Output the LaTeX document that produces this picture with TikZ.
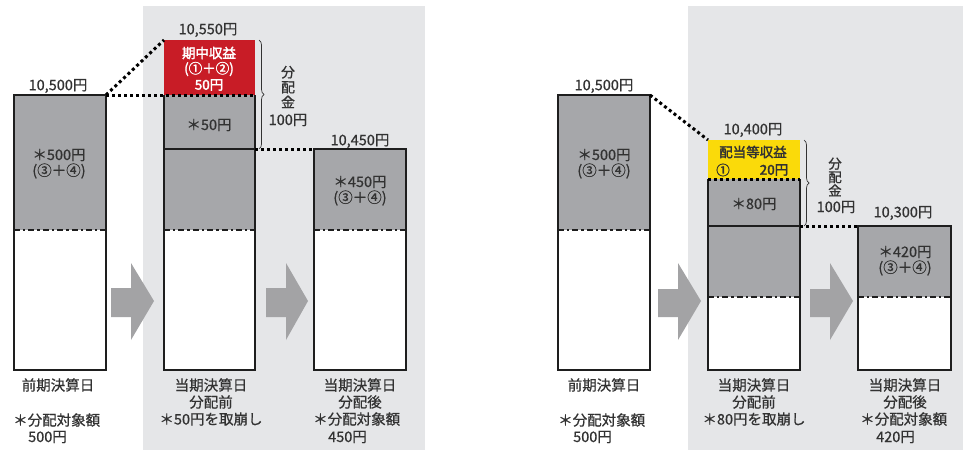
\documentclass[tikz,border=0pt]{standalone}
\usepackage{fontspec}
\setmainfont{Noto Sans CJK JP}[FakeBold=0.7]
\newfontfamily\boldjp{Noto Sans CJK JP}[FakeBold=2.2]
\usetikzlibrary{decorations.pathreplacing}
\definecolor{panelbg}{RGB}{229,230,232}
\definecolor{boxgray}{RGB}{166,167,170}
\definecolor{redc}{RGB}{200,28,38}
\definecolor{yelc}{RGB}{250,218,10}
\definecolor{arrowc}{RGB}{163,163,165}
\definecolor{txt}{RGB}{50,50,50}
\definecolor{framec}{RGB}{30,30,30}
\tikzset{
  lbl/.style={font=\fontsize{14.5}{17}\selectfont, text=txt, inner sep=0pt},
  num/.style={font=\fontsize{14.5}{17}\selectfont, text=txt, inner sep=0pt},
  onred/.style={font=\fontsize{13.5}{16}\boldjp, text=white, inner sep=0pt},
  onyel/.style={font=\fontsize{13.5}{16}\boldjp, text=txt, inner sep=0pt},
  vert/.style={font=\fontsize{14}{15}\selectfont, text=txt, inner sep=0pt, align=center},
  frame/.style={draw=framec, line width=2.6pt},
  dashdotline/.style={draw=framec, line width=2.4pt, dash pattern=on 6pt off 3pt on 2.4pt off 3pt},
  dotline/.style={draw=black, line width=3pt, dash pattern=on 3pt off 3pt},
  bracestyle/.style={draw=txt, line width=0.7pt, decorate, decoration={brace, amplitude=5pt}},
  blockarrow/.style={fill=arrowc},
}
\begin{document}
\begin{tikzpicture}[x=1pt,y=-1pt]
\useasboundingbox (0,0) rectangle (963,450);
% panels
\fill[panelbg] (143,6) rectangle (425,450);
\fill[panelbg] (688,6) rectangle (963,450);

%%%%%%%%%%%% LEFT PANEL
% box A1
\coordinate (A1nw) at (14,95);
\coordinate (A1ne) at (106,95);
\coordinate (A1sw) at (14,370);
\coordinate (A1se) at (106,370);
\coordinate (A1dl) at (14,230);
\coordinate (A1dr) at (106,230);
\fill[boxgray] (A1nw) rectangle (A1dr);
\fill[white] (A1dl) rectangle (A1se);
\draw[dashdotline] (A1dl) -- (A1dr);
\draw[frame] (A1nw) rectangle (A1se);
% box A2
\coordinate (A2tl) at (164,40);
\coordinate (A2tr) at (255,40);
\coordinate (A2nw) at (164,95);
\coordinate (A2ne) at (255,95);
\coordinate (A2ml) at (164,149);
\coordinate (A2mr) at (255,149);
\coordinate (A2dl) at (164,230);
\coordinate (A2dr) at (255,230);
\coordinate (A2sw) at (164,370);
\coordinate (A2se) at (255,370);
\fill[redc] (A2tl) rectangle (A2ne);
\fill[boxgray] (A2nw) rectangle (A2dr);
\fill[white] (A2dl) rectangle (A2se);
\draw[dashdotline] (A2dl) -- (A2dr);
\draw[frame] (A2nw) -- (A2sw) -- (A2se) -- (A2ne);
\draw[frame] (A2ml) -- (A2mr);
% box A3
\coordinate (A3nw) at (314,149);
\coordinate (A3ne) at (406,149);
\coordinate (A3dl) at (314,230);
\coordinate (A3dr) at (406,230);
\coordinate (A3se) at (406,370);
\fill[boxgray] (A3nw) rectangle (A3dr);
\fill[white] (A3dl) rectangle (A3se);
\draw[dashdotline] (A3dl) -- (A3dr);
\draw[frame] (A3nw) rectangle (A3se);
% dotted connectors
\draw[dotline] (A1ne) -- (A2tl);
\draw[dotline] (A1ne) -- (A2ne);
\draw[dotline] (A2mr) -- (A3nw);
% brace
\coordinate (AB1) at (259,40);
\coordinate (AB2) at (259,149);
\draw[bracestyle] (AB1) -- (AB2);
% arrows
\fill[blockarrow] (111,288) -- (131,288) -- (131,263) -- (154,301) -- (131,340) -- (131,317) -- (111,317) -- cycle;
\fill[blockarrow] (266,288) -- (286,288) -- (286,263) -- (308,301) -- (286,340) -- (286,317) -- (266,317) -- cycle;
% texts
\node[num] (a1v) at (58,86) {10,500円};
\node[num] (a2v) at (208,30) {10,550円};
\node[num] (a3v) at (360,141) {10,450円};
\node[lbl] (a1t1) at (59,155) {＊500円};
\node[lbl] (a1t2) at (59,171) {(③＋④)};
\node[onred] (a2r1) at (209,53) {期中収益};
\node[onred] (a2r2) at (209,69) {(①＋②)};
\node[onred] (a2r3) at (209,85) {50円};
\node[lbl] (a2t1) at (209,125) {＊50円};
\node[lbl] (a3t1) at (360,182) {＊450円};
\node[lbl] (a3t2) at (360,198) {(③＋④)};
\node[vert] (abv) at (288,87) {分\\配\\金};
\node[lbl] (abn) at (288,120) {100円};
\node[lbl] (L1a) at (58,385) {前期決算日};
\node[lbl, anchor=west] (L1b) at (13,420) {＊分配対象額};
\node[lbl, anchor=west] (L1c) at (28,437) {500円};
\node[lbl] (L2a) at (211,385) {当期決算日};
\node[lbl] (L2b) at (211,402) {分配前};
\node[lbl] (L2c) at (211,419) {＊50円を取崩し};
\node[lbl] (L3a) at (360,385) {当期決算日};
\node[lbl] (L3b) at (360,402) {分配後};
\node[lbl, anchor=west] (L3c) at (313,419) {＊分配対象額};
\node[lbl, anchor=west] (L3d) at (328,437) {450円};

%%%%%%%%%%%% RIGHT PANEL
% box B1
\coordinate (B1nw) at (558,95);
\coordinate (B1ne) at (650,95);
\coordinate (B1dl) at (558,230);
\coordinate (B1dr) at (650,230);
\coordinate (B1se) at (650,370);
\fill[boxgray] (B1nw) rectangle (B1dr);
\fill[white] (B1dl) rectangle (B1se);
\draw[dashdotline] (B1dl) -- (B1dr);
\draw[frame] (B1nw) rectangle (B1se);
% box B2
\coordinate (B2tl) at (708,140);
\coordinate (B2nw) at (708,179);
\coordinate (B2ne) at (800,179);
\coordinate (B2ml) at (708,226);
\coordinate (B2mr) at (800,226);
\coordinate (B2dl) at (708,297);
\coordinate (B2dr) at (800,297);
\coordinate (B2sw) at (708,370);
\coordinate (B2se) at (800,370);
\fill[yelc] (B2tl) rectangle (B2ne);
\fill[boxgray] (B2nw) rectangle (B2dr);
\fill[white] (B2dl) rectangle (B2se);
\draw[dashdotline] (B2dl) -- (B2dr);
\draw[frame] (B2nw) -- (B2sw) -- (B2se) -- (B2ne);
\draw[frame] (B2ml) -- (B2mr);
\draw[dotline] (B2nw) -- (B2ne);
% box B3
\coordinate (B3nw) at (858,226);
\coordinate (B3dl) at (858,297);
\coordinate (B3dr) at (951,297);
\coordinate (B3se) at (951,370);
\fill[boxgray] (B3nw) rectangle (B3dr);
\fill[white] (B3dl) rectangle (B3se);
\draw[dashdotline] (B3dl) -- (B3dr);
\draw[frame] (B3nw) rectangle (B3se);
% dotted connectors
\draw[dotline] (B1ne) -- (B2tl);
\draw[dotline] (B2mr) -- (B3nw);
% brace
\coordinate (BB1) at (804,140);
\coordinate (BB2) at (804,226);
\draw[bracestyle] (BB1) -- (BB2);
% arrows
\fill[blockarrow] (658,289) -- (678,289) -- (678,263) -- (701,301) -- (678,340) -- (678,317) -- (658,317) -- cycle;
\fill[blockarrow] (810,289) -- (830,289) -- (830,263) -- (853,301) -- (830,340) -- (830,317) -- (810,317) -- cycle;
% texts
\node[num] (b1v) at (604,86) {10,500円};
\node[num] (b2v) at (753,130) {10,400円};
\node[num] (b3v) at (903,213) {10,300円};
\node[lbl] (b1t1) at (604,155) {＊500円};
\node[lbl] (b1t2) at (604,171) {(③＋④)};
\node[onyel] (b2y1) at (753,152) {配当等収益};
\node[onyel] (b2y2) at (723,170) {①};
\node[onyel] (b2y3) at (774,170) {20円};
\node[lbl] (b2t1) at (754,204) {＊80円};
\node[lbl] (b3t1) at (905,252) {＊420円};
\node[lbl] (b3t2) at (905,268) {(③＋④)};
\node[vert, font=\fontsize{13.5}{13.5}\selectfont] (bbv) at (835,177) {分\\配\\金};
\node[lbl] (bbn) at (836,207) {100円};
\node[lbl] (R1a) at (604,385) {前期決算日};
\node[lbl, anchor=west] (R1b) at (558,420) {＊分配対象額};
\node[lbl, anchor=west] (R1c) at (573,437) {500円};
\node[lbl] (R2a) at (754,385) {当期決算日};
\node[lbl] (R2b) at (754,402) {分配前};
\node[lbl] (R2c) at (754,419) {＊80円を取崩し};
\node[lbl] (R3a) at (905,385) {当期決算日};
\node[lbl] (R3b) at (905,402) {分配後};
\node[lbl, anchor=west] (R3c) at (860,419) {＊分配対象額};
\node[lbl, anchor=west] (R3d) at (876,437) {420円};
\end{tikzpicture}
\end{document}
